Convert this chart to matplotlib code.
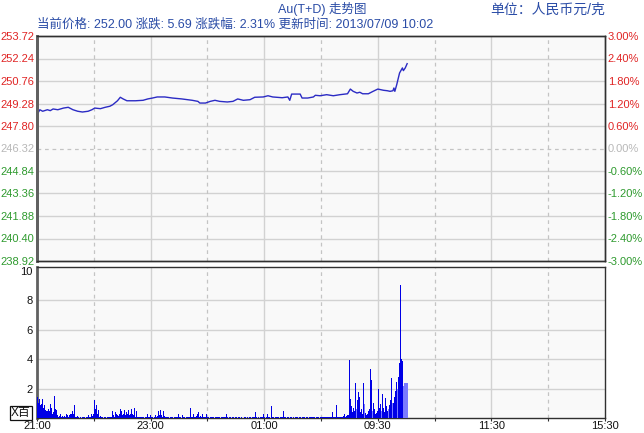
import matplotlib.pyplot as plt


# ---- data ----

PRICE_MINUTES = [
    0, 3, 6, 11, 14, 17, 22, 28, 33, 38, 43, 48, 54, 58, 61, 67, 72, 77,
    80, 85, 88, 91, 95, 104, 112, 117, 122, 127, 135, 143, 153, 164, 170,
    172, 178, 183, 188, 193, 201, 207, 212, 218, 225, 230, 239, 244, 249,
    259, 265, 267, 269, 278, 280, 286, 292, 294, 299, 306, 313, 320, 328,
    331, 334, 338, 341, 344, 350, 355, 360, 366, 370, 373, 376, 377, 378,
    380, 381, 383, 386, 387, 389, 391
]

PRICES = [
    248.54, 248.87, 248.77, 248.87, 248.81, 248.92, 248.87, 248.98, 249.03,
    248.87, 248.77, 248.72, 248.77, 248.87, 248.98, 248.94, 249.03, 249.10,
    249.20, 249.46, 249.69, 249.58, 249.46, 249.46, 249.49, 249.58, 249.64,
    249.71, 249.71, 249.64, 249.58, 249.49, 249.42, 249.31, 249.31, 249.42,
    249.49, 249.42, 249.38, 249.42, 249.58, 249.49, 249.53, 249.69, 249.71,
    249.79, 249.71, 249.66, 249.71, 249.49, 249.90, 249.90, 249.64, 249.64,
    249.71, 249.82, 249.79, 249.86, 249.79, 249.86, 249.92, 250.23, 250.08,
    249.97, 250.02, 249.92, 249.92, 250.08, 250.23, 250.15, 250.12, 250.08,
    250.12, 250.30, 250.08, 250.52, 250.78, 251.29, 251.62, 251.44, 251.62,
    251.90
]

VOLUMES = [
    1.45, 1.0, 1.3, 0.9, 0.95, 1.3, 0.7, 0.85, 0.55, 0.4,
    0.5, 0.45, 0.6, 0.5, 0.95, 0.7, 0.3, 0.4, 1.5, 0.6,
    0.55, 0.2, 0.1, 0.15, 0.3, 0.1, 0.15, 0.1, 0.2, 0.15,
    0.1, 0.27, 0.2, 0.1, 0.2, 0.3, 0.25, 0.5, 0.3, 0.9,
    0.1, 0.08, 0.15, 0.08, 0.0, 0.08, 0.08, 0.0, 0.08, 0.1,
    0.08, 0.0, 0.08, 0.08, 0.2, 0.1, 0.08, 0.27, 0.15, 0.3,
    1.2, 0.6, 0.85, 0.3, 0.55, 0.2, 0.1, 0.15, 0.08, 0.08,
    0.0, 0.08, 0.08, 0.0, 0.08, 0.1, 0.08, 0.08, 0.1, 0.5,
    0.2, 0.1, 0.4, 0.25, 0.55, 0.2, 0.15, 0.3, 0.6, 0.5,
    0.2, 0.3, 0.55, 0.2, 0.4, 0.25, 0.55, 0.2, 0.3, 0.6,
    0.3, 0.2, 0.7, 0.2, 0.1, 0.5, 0.1, 0.08, 0.1, 0.08,
    0.08, 0.1, 0.08, 0.0, 0.08, 0.1, 0.25, 0.1, 0.08, 0.2,
    0.1, 0.08, 0.08, 0.0, 0.08, 0.2, 0.1, 0.15, 0.45, 0.2,
    0.55, 0.2, 0.1, 0.45, 0.15, 0.08, 0.08, 0.1, 0.08, 0.0,
    0.08, 0.08, 0.1, 0.08, 0.0, 0.08, 0.08, 0.1, 0.08, 0.25,
    0.08, 0.08, 0.0, 0.2, 0.08, 0.08, 0.0, 0.08, 0.08, 0.0,
    0.08, 0.08, 0.65, 0.1, 0.08, 0.25, 0.1, 0.08, 0.15, 0.3,
    0.4, 0.1, 0.15, 0.1, 0.3, 0.1, 0.08, 0.08, 0.08, 0.25,
    0.08, 0.08, 0.0, 0.08, 0.08, 0.1, 0.08, 0.0, 0.08, 0.08,
    0.1, 0.08, 0.08, 0.0, 0.08, 0.08, 0.1, 0.08, 0.08, 0.08,
    0.27, 0.08, 0.0, 0.08, 0.08, 0.0, 0.08, 0.08, 0.0, 0.08,
    0.08, 0.0, 0.08, 0.08, 0.0, 0.08, 0.08, 0.0, 0.0, 0.08,
    0.08, 0.0, 0.08, 0.0, 0.08, 0.08, 0.0, 0.08, 0.08, 0.08,
    0.4, 0.08, 0.0, 0.08, 0.08, 0.0, 0.08, 0.08, 0.08, 0.25,
    0.08, 0.0, 0.08, 0.27, 0.08, 0.08, 0.0, 0.8, 0.08, 0.08,
    0.0, 0.08, 0.08, 0.0, 0.08, 0.08, 0.0, 0.08, 0.08, 0.08,
    0.45, 0.08, 0.08, 0.0, 0.08, 0.08, 0.0, 0.08, 0.08, 0.0,
    0.08, 0.08, 0.0, 0.08, 0.08, 0.08, 0.0, 0.08, 0.08, 0.0,
    0.08, 0.08, 0.08, 0.0, 0.08, 0.08, 0.0, 0.08, 0.08, 0.08,
    0.0, 0.08, 0.08, 0.08, 0.0, 0.08, 0.08, 0.08, 0.0, 0.08,
    0.08, 0.08, 0.1, 0.08, 0.08, 0.08, 0.08, 0.1, 0.08, 0.08,
    0.1, 0.08, 0.42, 0.08, 0.1, 0.08, 0.9, 0.1, 0.08, 0.1,
    0.1, 0.08, 0.1, 0.15, 0.3, 0.1, 0.15, 0.2, 0.1, 0.2,
    3.95, 1.3, 0.8, 0.4, 0.7, 0.5, 2.35, 0.6, 1.2, 1.75,
    1.4, 0.4, 0.6, 0.3, 2.35, 0.95, 0.4, 0.35, 0.2, 0.3,
    0.45, 0.6, 3.35, 2.6, 0.5, 1.05, 0.6, 0.3, 0.35, 0.5,
    2.0, 0.7, 0.95, 0.5, 1.65, 0.6, 0.7, 0.4, 1.35, 0.8,
    0.5, 0.6, 0.9, 1.2, 2.7, 1.0, 1.05, 1.4, 1.8, 2.45,
    2.0, 2.8, 3.75, 9.0, 4.05, 4.0, 3.9, 2.2, 2.35, 2.35,
    2.35, 2.35
]

LIGHT_BAR_MINUTES = [337, 345, 354, 363, 371, 375, 380, 387, 388, 389, 390, 391]

PRICE_TICKS = [
    238.92, 240.40, 241.88, 243.36, 244.84, 246.32,
    247.80, 249.28, 250.76, 252.24, 253.72
]
PERCENT_LABELS = [
    "-3.00%", "-2.40%", "-1.80%", "-1.20%", "-0.60%", "0.00%",
    "0.60%", "1.20%", "1.80%", "2.40%", "3.00%"
]
PREV_CLOSE = 246.32

TIME_TICKS = [0, 120, 240, 360, 480, 600]
TIME_LABELS = ["21:00", "23:00", "01:00", "09:30", "11:30", "15:30"]
HALF_TICKS = [60, 180, 300, 420, 540]

VOLUME_TICKS = [2, 4, 6, 8, 10]


# ---- style ----

LATIN = "Liberation Sans"
CJK_FAMILY = ["Liberation Sans", "Noto Sans CJK SC", "DejaVu Sans"]
HEADER_BLUE = "#2a4ca6"
LINE_BLUE = "#2b2bc4"
BAR_BLUE = "#0000e6"
BAR_LIGHT = "#7a7aff"
RED = "#e02424"
GREEN = "#2e9a2e"
GREY_LABEL = "#b8b8b8"
GRID = "#d2d2d2"
PANEL_BG = "#f9f9f9"
TICK_SIZE = 8


def tick_colour(value):

    if value > PREV_CLOSE + 1e-6:
        return RED

    if value < PREV_CLOSE - 1e-6:
        return GREEN

    return GREY_LABEL


def draw_time_grid(ax):

    for t in TIME_TICKS[1:-1]:
        ax.axvline(t, color=GRID, linewidth=1, zorder=0)

    for t in HALF_TICKS:
        ax.axvline(
            t,
            color="#c4c4c4",
            linewidth=0.9,
            linestyle=(0, (3, 3)),
            zorder=0
        )


def style_spines(ax):

    for side in ["top", "right", "bottom"]:
        ax.spines[side].set_color("#303030")
        ax.spines[side].set_linewidth(1.0)

    ax.spines["left"].set_color("#606060")
    ax.spines["left"].set_linewidth(2.0)


plt.rcParams["font.family"] = LATIN

fig = plt.figure(figsize=(6.44, 4.33), dpi=100)
fig.patch.set_facecolor("white")

left = 37 / 644
width = (605 - 37) / 644

ax_price = fig.add_axes([left, 1 - 261 / 433, width, (261 - 36) / 433])
ax_vol = fig.add_axes([left, 1 - 418 / 433, width, (418 - 267) / 433])


# ---- price panel ----

ax_price.set_facecolor(PANEL_BG)
ax_price.set_xlim(0, 600)
ax_price.set_ylim(PRICE_TICKS[0], PRICE_TICKS[-1])

for level in PRICE_TICKS[1:-1]:
    if abs(level - PREV_CLOSE) < 1e-6:
        ax_price.axhline(
            level,
            color="#c4c4c4",
            linewidth=0.9,
            linestyle=(0, (3, 3)),
            zorder=0
        )
    else:
        ax_price.axhline(level, color=GRID, linewidth=1, zorder=0)

draw_time_grid(ax_price)

ax_price.plot(
    PRICE_MINUTES,
    PRICES,
    color=LINE_BLUE,
    linewidth=1.0,
    zorder=3
)

ax_price.set_xticks([])
ax_price.set_yticks(PRICE_TICKS)
ax_price.set_yticklabels([f"{p:.2f}" for p in PRICE_TICKS])
ax_price.tick_params(axis="y", length=0, pad=2, labelsize=TICK_SIZE)

for label, value in zip(ax_price.get_yticklabels(), PRICE_TICKS):
    label.set_color(tick_colour(value))

ax_pct = ax_price.twinx()
ax_pct.set_ylim(PRICE_TICKS[0], PRICE_TICKS[-1])
ax_pct.set_yticks(PRICE_TICKS)
ax_pct.set_yticklabels(PERCENT_LABELS)
ax_pct.tick_params(axis="y", length=0, pad=2, labelsize=TICK_SIZE)

for label, value in zip(ax_pct.get_yticklabels(), PRICE_TICKS):
    label.set_color(tick_colour(value))

style_spines(ax_price)
style_spines(ax_pct)


# ---- volume panel ----

ax_vol.set_facecolor(PANEL_BG)
ax_vol.set_xlim(0, 600)
ax_vol.set_ylim(0, 10.25)

for level in VOLUME_TICKS[:-1]:
    ax_vol.axhline(level, color=GRID, linewidth=1, zorder=0)

draw_time_grid(ax_vol)

minutes = list(range(len(VOLUMES)))
colours = [BAR_LIGHT if m in LIGHT_BAR_MINUTES else BAR_BLUE for m in minutes]

ax_vol.bar(
    minutes,
    VOLUMES,
    width=1.0,
    align="edge",
    color=colours,
    linewidth=0,
    zorder=3
)

ax_vol.set_yticks(VOLUME_TICKS)
ax_vol.set_yticklabels([str(v) for v in VOLUME_TICKS])
ax_vol.tick_params(axis="y", length=0, pad=3, labelsize=TICK_SIZE, labelcolor="#111111")

ax_vol.set_xticks(TIME_TICKS)
ax_vol.set_xticklabels(TIME_LABELS)
ax_vol.set_xticks(HALF_TICKS, minor=True)
ax_vol.tick_params(
    axis="x",
    which="both",
    length=2.5,
    width=0.8,
    color="#303030",
    pad=0,
    labelsize=TICK_SIZE,
    labelcolor="#111111"
)

style_spines(ax_vol)


# ---- header texts ----

fig.text(
    322 / 644, 1 - 9 / 433,
    "Au(T+D) 走势图",
    ha="center", va="center",
    fontsize=9, color=HEADER_BLUE,
    family=CJK_FAMILY
)

fig.text(
    37 / 644, 1 - 24 / 433,
    "当前价格: 252.00 涨跌: 5.69 涨跌幅: 2.31% 更新时间: 2013/07/09 10:02",
    ha="left", va="center",
    fontsize=9, color=HEADER_BLUE,
    family=CJK_FAMILY
)

fig.text(
    605 / 644, 1 - 10 / 433,
    "单位：人民币元/克",
    ha="right", va="center",
    fontsize=10, color=HEADER_BLUE,
    family=CJK_FAMILY
)

fig.text(
    21 / 644, 1 - 413 / 433,
    "X百",
    ha="center", va="center",
    fontsize=8.5, color="#111111",
    family=CJK_FAMILY,
    bbox=dict(boxstyle="square,pad=0.1", facecolor="white", edgecolor="#111111", linewidth=0.9)
)

fig.savefig("out.png", dpi=100)
